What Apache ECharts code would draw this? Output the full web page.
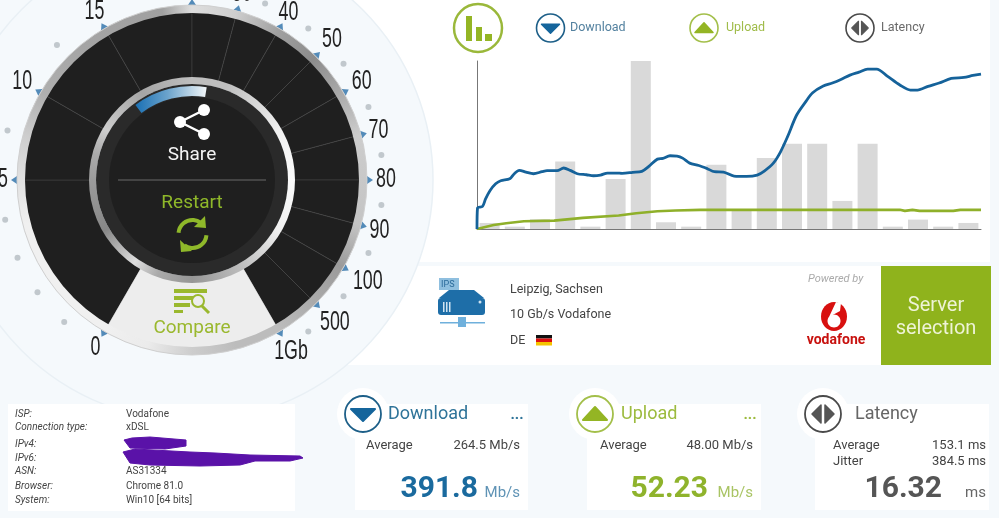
<!DOCTYPE html>
<html>
<head>
<meta charset="utf-8">
<script src="https://cdn.jsdelivr.net/npm/echarts@6/dist/echarts.min.js"></script>
<style>
html,body{margin:0;padding:0;background:#f5f9fc;}
#main{width:999px;height:518px;}
</style>
</head>
<body>
<div id="main"></div>
<script>
// speed history, bars are latency samples
var barNames = ['1','2','3','4','5','6','7','8','9','10','11','12','13','14','15','16','17','18','19','20'];
var latencyBars = [3.6,1.4,5.8,40.2,1.4,29.7,100,4.0,1.4,38.2,11.0,42.2,50.8,50.8,16.7,50.8,1.4,5.6,1.4,3.6];
var downloadTime = [0,0.1,1.1,1.7,2.6,3.7,4.7,6.5,7.4,8.4,9.7,11.2,12.9,13.9,15.9,17.2,18.5,19.9,21.7,23.1,24.5,25.9,27.7,28.8,30.9,32.7,34.1,35.8,36.9,38.3,39.7,40.8,42.2,44.0,45.7,47.1,48.9,51.0,53.5,55.6,57.0,58.8,60.2,61.6,63.4,65.2,66.6,68.7,70.5,72.2,74.0,75.8,77.5,79.3,81.4,83.9,86.0,87.4,89.5,91.7,94.1,96.6,98.4,100];
var downloadSpeed = [0,12.5,13.5,17.9,22.9,26.9,28.7,29.9,32.9,34.9,33.9,32.9,34.1,34.7,34.7,36.3,34.9,32.9,32.3,31.7,32.1,33.3,33.3,33.1,33.7,34.3,37.3,41.6,42.0,43.6,43.4,42.2,39.2,37.8,35.9,34.1,33.9,31.5,31.3,32.1,34.5,39.2,45.8,54.8,67.7,75.7,81.1,85.1,86.9,89.0,91.6,93.4,95.2,95.2,91.0,85.7,82.7,82.7,84.9,86.9,89.6,90.2,91.4,92.2];
var uploadTime = [0,3.3,5.8,9.3,15.3,21.0,28.1,31.6,35.8,39.4,44.3,63.4,83.9,84.9,86.4,87.8,94.5,95.9,100];
var uploadSpeed = [0,2.4,3.4,4.6,5.0,6.6,8.0,9.4,10.6,11.0,11.4,11.4,11.4,10.8,11.4,10.8,10.8,11.4,11.4];

// dial
var dialLabels = ['0','5','10','15','20','30','40','50','60','70','80','90','100','500','1Gb'];
var tickAngles = [240,180,150,120,90,75,60,45,30,15,0,-15,-30,-45,-60];
var labelRadius = [193,189,196,195,195,193,193,198,196,193,194,194,203,202,198];
var dialSectors = [60,30,30,30,15,15,15,15,15,15,15,15,15,15];
var compareSector = 60;
var dotAngles = [228,216,204,192,165,135,105,67.5,52.5,37.5,22.5,7.5,-7.5,-22.5,-37.5,-52.5];
var outerShades = [[0,200],[15,205],[30,170],[45,140],[60,160],[75,205],[90,222],[100,160],[130,165],[150,175],[165,205],[180,225],[195,240],[240,240],[255,235],[270,205],[285,188],[300,188],[315,170],[330,155],[345,196],[360,200]];
var innerShades = [[0,250],[30,240],[45,222],[70,190],[90,190],[120,165],[150,205],[165,170],[180,155],[210,135],[235,222],[250,170],[270,150],[300,190],[330,240],[360,250]];

var CX = 192, CY = 180;
var BLUE = '#15659c', GREEN = '#94b524', GREY = '#555555';
var els = [];

function rad(a){ return a * Math.PI / 180; }
function add(type, shape, style, z){
    els.push({type:type, shape:shape, style:style, z:z, silent:true});
}
function rect(x,y,w,h,fill,z){ add('rect',{x:x,y:y,width:w,height:h},{fill:fill},z); }
function circle(x,y,r,fill,z,stroke,lw){ add('circle',{cx:x,cy:y,r:r},{fill:fill,stroke:stroke,lineWidth:lw||0},z); }
function poly(points,fill,z,lw){ add('polygon',{points:points},{fill:fill,stroke:lw?fill:null,lineWidth:lw||0,lineJoin:'round'},z); }
function text(x,y,str,size,color,opt){
    opt = opt || {};
    els.push({type:'text',x:x,y:y+size*0.09,z:opt.z||10,silent:true,style:{text:str,fontSize:size,fill:color,
        fontFamily:opt.font||'Roboto',fontWeight:opt.weight||'normal',fontStyle:opt.italic?'italic':'normal',
        align:opt.align||'left',verticalAlign:'middle'}});
}
// brushed metal look, conic gradient drawn on a page sized canvas
function metalRing(r0,r,stops){
    var cv = document.createElement('canvas');
    cv.width = 999; cv.height = 518;
    var ctx = cv.getContext('2d');
    var g = ctx.createConicGradient(0,CX,CY);
    for(var i=stops.length-1;i>=0;i--){
        var v = stops[i][1];
        g.addColorStop((360-stops[i][0])/360,'rgb('+v+','+v+','+v+')');
    }
    ctx.fillStyle = g;
    ctx.fillRect(0,0,999,518);
    add('ring',{cx:CX,cy:CY,r0:r0,r:r},{fill:{image:cv,repeat:'no-repeat'}},6);
}
function iconDown(x,y,k,c,z){ poly([[x-12*k,y-5*k],[x+12*k,y-5*k],[x,y+7*k]],c,z,2*k); }
function iconUp(x,y,k,c,z){ poly([[x-12*k,y+6*k],[x+12*k,y+6*k],[x,y-7*k]],c,z,2*k); }
function iconLat(x,y,k,c,z){
    poly([[x-11*k,y],[x-2*k,y-9*k],[x-2*k,y+9*k]],c,z,1.5*k);
    poly([[x+11*k,y],[x+2*k,y-9*k],[x+2*k,y+9*k]],c,z,1.5*k);
}

// panels
rect(345,0,645,262,'#ffffff',0);
rect(345,266,536,99,'#ffffff',0);
circle(CX,CY,241,'#f5f9fc',1,'#e9f0f5',1.5);
rect(881,266,110,99,'#8fb31c',1);

// dial rings
metalRing(167,175,outerShades);
circle(CX,CY,175,'none',6,'#cfcfcf',1);
metalRing(96,103,innerShades);
circle(CX,CY,96,'#2a2a2a',6);
circle(CX,CY,83,'#1f1f1f',7);
add('sector',{cx:CX,cy:CY,r0:84,r:94,startAngle:rad(-127),endAngle:rad(-81),clockwise:true},
    {fill:{type:'linear',x:0,y:0,x2:1,y2:0,colorStops:[{offset:0,color:'#1a70b4'},{offset:0.45,color:'#6ba3cc'},{offset:1,color:'#f2f6f8'}]}},8);

// share
add('line',{x1:180,y1:122,x2:204,y2:110},{stroke:'#fff',lineWidth:2.5},9);
add('line',{x1:180,y1:122,x2:204,y2:134},{stroke:'#fff',lineWidth:2.5},9);
circle(204,110,6,'#fff',9);
circle(180,122,6,'#fff',9);
circle(204,134,6,'#fff',9);
text(CX,154,'Share',19,'#f4f4f4',{align:'center'});
add('line',{x1:118,y1:180,x2:266,y2:180},{stroke:'#6a6a6a',lineWidth:1},9);
text(CX,202,'Restart',19,'#8fb82a',{align:'center'});
// refresh
add('arc',{cx:192.5,cy:234,r:14,startAngle:rad(-175),endAngle:rad(-55),clockwise:true},{fill:'none',stroke:'#8fb82a',lineWidth:4},9);
add('arc',{cx:192.5,cy:234,r:14,startAngle:rad(5),endAngle:rad(125),clockwise:true},{fill:'none',stroke:'#8fb82a',lineWidth:4},9);
poly([[205,216],[206,228],[194,227]],'#8fb82a',9);
poly([[180,240],[181,252],[192,251]],'#8fb82a',9);

// compare
rect(174,289,33,4,'#9ab82e',9);
rect(174,296,20,4,'#9ab82e',9);
rect(174,303,16,4,'#9ab82e',9);
rect(174,310,9,3,'#9ab82e',9);
circle(198,301,6,'#ededed',9,'#9ab82e',2);
add('line',{x1:202,y1:306,x2:209,y2:313},{stroke:'#9ab82e',lineWidth:3},9);
text(CX,327,'Compare',19,'#9ab82e',{align:'center'});

// chart legend
circle(478,28,24,'#fff',3,'#9ab83a',2.5);
rect(466,16,6,25,'#94b524',4);
rect(476,27,6,14,'#94b524',4);
rect(485,34,7,7,'#94b524',4);
circle(550.5,28,14,'#fff',3,'#1d5f88',1.6);
iconDown(550.5,28,0.75,BLUE,4);
text(570,27,'Download',12.5,'#53819f');
circle(704,28,14,'#fff',3,'#a3bf4a',1.6);
iconUp(704,28,0.75,GREEN,4);
text(726,27,'Upload',12.5,'#a0bc4a');
circle(860,28,14,'#fff',3,'#4a4a4a',1.6);
iconLat(860,28,0.75,GREY,4);
text(881,27,'Latency',12.5,'#6a6a6a');

// server info
rect(439,278,20,12,'#8fbfdf',3);
text(441,284,'IPS',9,'#2a6a9a');
poly([[449,290],[474,290],[484,298],[439,298]],'#1e6ea8',3);
add('rect',{x:438,y:298,width:47,height:17,r:3},{fill:'#1e6ea8'},3);
rect(443,302,1.5,10,'#cfe3f1',4);
rect(446,302,1.5,10,'#cfe3f1',4);
rect(449,302,1.5,10,'#cfe3f1',4);
circle(480,302,1.5,'#cfe3f1',4);
rect(440,322,45,1.5,'#6fb0dc',3);
rect(458,317,8,10,'#6fb0dc',3);
text(510,289,'Leipzig, Sachsen',12.5,'#444');
text(510,314,'10 Gb/s Vodafone',12.5,'#444');
text(510,340,'DE',12.5,'#444');
rect(536,335,16,3.5,'#111',3);
rect(536,338.5,16,3.5,'#d11',3);
rect(536,342,16,3.5,'#f5c400',3);
text(808,278,'Powered by',11,'#aaaaaa',{italic:true});
add('ellipse',{cx:834,cy:316.5,rx:13,ry:14.5},{fill:'#d8100f'},3);
add('ellipse',{cx:834,cy:321,rx:6.5,ry:6.5},{fill:'#fff'},4);
poly([[836,302],[841,303],[840,311],[829,317]],'#fff',4);
text(836,339,'vodafone',14,'#c8120f',{align:'center',weight:'bold'});
text(936,304,'Server',20,'#eef3d6',{align:'center'});
text(936,327,'selection',20,'#eef3d6',{align:'center'});

// isp card
rect(8,404,287,107,'#ffffff',1);
var ispKeys = ['ISP:','Connection type:','IPv4:','IPv6:','ASN:','Browser:','System:'];
var ispVals = ['Vodafone','xDSL','','','AS31334','Chrome 81.0','Win10 [64 bits]'];
var ispRows = [414,427,444,458,471,486,500];
for(var r=0;r<ispKeys.length;r++){
    text(15,ispRows[r],ispKeys[r],10,'#444',{italic:true});
    if(ispVals[r]) text(126,ispRows[r],ispVals[r],10,'#444');
}
poly([[124,440],[132,438],[150,437],[186,440],[186,446],[165,449],[130,448]],'#5a12a8',4,1);
poly([[123,452],[135,449],[190,452],[215,453],[250,455],[300,456],[303,458],[290,461],[255,461],[240,465],[200,466],[150,465],[130,463]],'#5a12a8',4,1);

// result cards
function card(x,w,ix,iconFn,c,border,title,tx,tc,dotx){
    rect(x,404,w,106,'#ffffff',1);
    circle(ix,414,26,'#ffffff',1);
    circle(ix,414,18,'#ffffff',3,border,1.8);
    iconFn(ix,414,1,c,4);
    text(tx,413,title,18,tc);
    if(dotx) text(dotx,414,'...',15,tc,{align:'center',weight:'bold'});
}
card(355,173,363,iconDown,BLUE,'#1d5f88','Download',388,'#2f7499',517);
text(366,445,'Average',13,'#444');
text(520,445,'264.5 Mb/s',13,'#444',{align:'right'});
text(478,487,'391.8',30,'#1a6a9e',{align:'right',weight:'bold'});
text(520,492,'Mb/s',15,'#5f93b5',{align:'right'});

card(587,174,595,iconUp,GREEN,'#a3bf4a','Upload',621,'#9cbb3e',750);
text(600,445,'Average',13,'#444');
text(753,445,'48.00 Mb/s',13,'#444',{align:'right'});
text(708,487,'52.23',30,'#8fb32c',{align:'right',weight:'bold'});
text(753,492,'Mb/s',15,'#a9c464',{align:'right'});

card(815,174,823,iconLat,GREY,'#4a4a4a','Latency',855,'#666');
text(833,445,'Average',13,'#444');
text(986,445,'153.1 ms',13,'#444',{align:'right'});
text(833,461,'Jitter',13,'#444');
text(986,461,'384.5 ms',13,'#444',{align:'right'});
text(942,487,'16.32',30,'#555',{align:'right',weight:'bold'});
text(986,492,'ms',15,'#666',{align:'right'});

// marks for the dial
var tickData = [], labelData = [], dotData = [], sectorData = [];
for(var i=0;i<tickAngles.length;i++){
    tickData.push({value:[178,tickAngles[i]],symbolRotate:tickAngles[i]-90});
    labelData.push([labelRadius[i],tickAngles[i]]);
}
for(var j=0;j<dotAngles.length;j++) dotData.push([191,dotAngles[j]]);
for(var s=0;s<dialSectors.length;s++) sectorData.push({value:dialSectors[s],itemStyle:{color:'#1f1f1f'}});
sectorData.push({value:compareSector,itemStyle:{color:'#ededed',borderColor:'#ededed'}});

function pairs(xs,ys){
    var res = [];
    for(var i=0;i<xs.length;i++) res.push([xs[i],ys[i]]);
    return res;
}
// narrow dial numbers, no condensed font available so the text is squeezed
function renderDialLabel(params,api){
    var p = api.coord([api.value(0),api.value(1)]);
    return {type:'text',x:p[0],y:p[1],scaleX:0.66,silent:true,
        style:{text:dialLabels[params.dataIndex],fill:'#222',fontSize:27,fontFamily:'Liberation Sans',align:'center',verticalAlign:'middle'}};
}

var myChart = echarts.init(document.getElementById('main'),null,{renderer:'canvas'});
var option = {
    animation:false,
    backgroundColor:'#f5f9fc',
    tooltip:{show:false},
    graphic:{elements:els},
    polar:{center:[CX,CY],radius:200},
    radiusAxis:{show:false,min:0,max:200},
    angleAxis:{show:false,min:0,max:360,startAngle:0,clockwise:false},
    grid:{left:477,top:61,width:504,height:168,containLabel:false},
    xAxis:[
        {type:'category',data:barNames,axisLine:{lineStyle:{color:'#777',width:1}},axisTick:{show:false},axisLabel:{show:false}},
        {type:'value',min:0,max:100,show:false}
    ],
    yAxis:{type:'value',min:0,max:100,axisLine:{show:true,lineStyle:{color:'#777',width:1}},axisTick:{show:false},axisLabel:{show:false},splitLine:{show:false}},
    series:[
        {type:'pie',center:[CX,CY],radius:[99,168],startAngle:240,silent:true,label:{show:false},labelLine:{show:false},
            itemStyle:{borderColor:'#444444',borderWidth:0.6},data:sectorData,z:2},
        {type:'custom',coordinateSystem:'polar',renderItem:renderDialLabel,data:labelData,silent:true,z:3},
        {type:'scatter',coordinateSystem:'polar',symbol:'triangle',symbolSize:[8,6],itemStyle:{color:'#2a6fa8'},silent:true,data:tickData,z:1},
        {type:'scatter',coordinateSystem:'polar',symbol:'circle',symbolSize:6,itemStyle:{color:'#b4bcc1'},silent:true,data:dotData,z:1},
        {type:'bar',xAxisIndex:0,yAxisIndex:0,data:latencyBars,barWidth:20,itemStyle:{color:'#d9d9d9'},silent:true,z:2},
        {type:'line',xAxisIndex:1,yAxisIndex:0,data:pairs(uploadTime,uploadSpeed),showSymbol:false,lineStyle:{color:'#8fb02a',width:2.6},silent:true,z:4},
        {type:'line',xAxisIndex:1,yAxisIndex:0,data:pairs(downloadTime,downloadSpeed),showSymbol:false,smooth:0.3,lineStyle:{color:'#15629a',width:2.8},silent:true,z:5}
    ]
};
myChart.setOption(option);
</script>
</body>
</html>
